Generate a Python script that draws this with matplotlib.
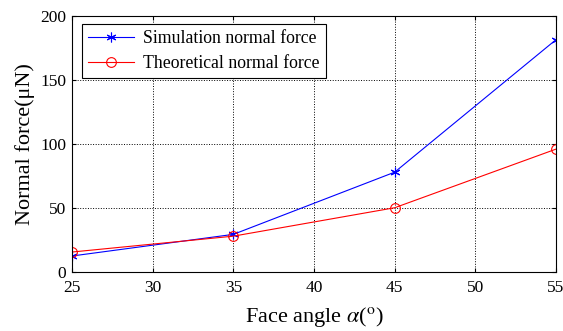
import matplotlib

matplotlib.use("Agg")

import matplotlib.pyplot as plt

plt.rcParams["font.family"] = ["Liberation Serif", "DejaVu Serif"]
plt.rcParams["mathtext.fontset"] = "stix"

face_angle = [25, 35, 45, 55]
simulation_force = [12.5, 29.4, 78.0, 181.5]
theoretical_force = [15.6, 28.0, 50.2, 96.0]
x_ticks = [25, 30, 35, 40, 45, 50, 55]
y_ticks = [0, 50, 100, 150, 200]

fig = plt.figure(figsize=(5.63, 3.31), dpi=100)
ax = fig.add_axes([72 / 563, 59 / 331, 484 / 563, 256 / 331])

ax.plot(face_angle, simulation_force, color="blue", linewidth=0.8, marker=(6, 2, 0),
        markersize=7, markeredgewidth=0.8, label="Simulation normal force")
ax.plot(face_angle, theoretical_force, color="red", linewidth=0.8, marker="o",
        markersize=7, markerfacecolor="none", markeredgewidth=0.8,
        label="Theoretical normal force")

ax.set_xlim(25, 55)
ax.set_ylim(0, 200)
ax.set_xticks(x_ticks)
ax.set_yticks(y_ticks)
ax.tick_params(direction="in", top=True, right=True, labelsize=12.5, length=3)
ax.tick_params(axis="x", pad=6)
ax.tick_params(axis="y", pad=4)
ax.grid(True, color="black", linestyle=":", linewidth=0.7)
for spine in ax.spines.values():
    spine.set_linewidth(0.8)

ax.set_xlabel(r"Face angle $\alpha$($^{\rm o}$)", fontsize=16, labelpad=6)
ax.set_ylabel("Normal force(μN)", fontsize=16, labelpad=4)

leg = ax.legend(loc="upper left", bbox_to_anchor=(0.02, 0.97), fontsize=12.8,
                fancybox=False, framealpha=1, edgecolor="black",
                borderpad=0.35, handlelength=2.6, handletextpad=0.5,
                labelspacing=0.45, borderaxespad=0)
leg.get_frame().set_linewidth(0.8)

fig.savefig("out.png", dpi=100)
